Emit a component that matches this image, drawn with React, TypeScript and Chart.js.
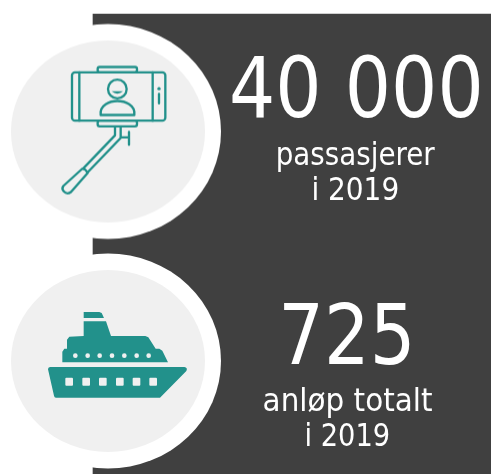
import React, { useEffect, useRef } from "react";
import { Chart, registerables } from "chart.js";

Chart.register(...registerables);

// ---- data ----
const statLabels = ["passasjerer", "anløp totalt"];
const statValues = [40000, 725];
const statPeriods = ["i 2019", "i 2019"];

// ---- layout (page pixels, not data) ----
const W = 491;
const H = 474;
const TEAL = "#22918b";
const GREY = "#f0f0f0";
const DARK = "#404040";
const TEXT = "#ffffff";
const FONT = '"DejaVu Sans"';
const badgeCentres = [
  { x: 108, y: 131.5 },
  { x: 108, y: 361 },
];
const valueBoxes = [
  { l: 232.5, r: 479, base: 117, size: 84 },
  { l: 283.5, r: 410, base: 364, size: 84 },
];
const labelBoxes = [
  { l: 277.5, r: 435.5, base: 165, size: 32 },
  { l: 263.5, r: 432, base: 410.5, size: 32 },
];
const periodBoxes = [
  { l: 314, r: 398, base: 199.5, size: 32 },
  { l: 307, r: 389, base: 446, size: 32 },
];

const fmt = (n: number) => String(n).replace(/\B(?=(\d{3})+$)/g, " ");

function rr(c: CanvasRenderingContext2D, x: number, y: number, w: number, h: number, r: number) {
  c.beginPath();
  c.roundRect(x, y, w, h, r);
}

function poly(c: CanvasRenderingContext2D, pts: number[][]) {
  c.beginPath();
  pts.forEach((p, i) => (i ? c.lineTo(p[0], p[1]) : c.moveTo(p[0], p[1])));
  c.closePath();
}

function selfieIcon(c: CanvasRenderingContext2D) {
  c.strokeStyle = TEAL;
  c.fillStyle = TEAL;
  c.lineWidth = 7;
  c.lineJoin = "round";
  c.lineCap = "round";
  rr(c, 216, 217, 280, 145, 9);
  c.stroke();
  rr(c, 293, 201, 118, 16, 6);
  c.stroke();
  rr(c, 293, 362, 118, 17, 6);
  c.stroke();
  c.beginPath();
  c.moveTo(238, 217);
  c.lineTo(238, 362);
  c.moveTo(458, 217);
  c.lineTo(458, 362);
  c.stroke();
  // side buttons
  c.beginPath();
  c.arc(477, 266, 5, 0, Math.PI * 2);
  c.fill();
  c.beginPath();
  c.moveTo(477, 282);
  c.lineTo(477, 310);
  c.stroke();
  // head
  c.beginPath();
  c.arc(352, 267, 28, 0, Math.PI * 2);
  c.stroke();
  c.beginPath();
  c.moveTo(335, 274);
  c.lineTo(369, 274);
  c.quadraticCurveTo(352, 288, 335, 274);
  c.closePath();
  c.fill();
  // body
  c.beginPath();
  c.moveTo(302, 345);
  c.bezierCurveTo(298, 315, 330, 303, 352, 303);
  c.bezierCurveTo(375, 303, 407, 315, 403, 345);
  c.closePath();
  c.stroke();
  // stick
  c.beginPath();
  c.moveTo(345, 380);
  c.lineTo(345, 406);
  c.lineTo(250, 505);
  c.moveTo(362, 380);
  c.lineTo(362, 414);
  c.lineTo(264, 516);
  c.moveTo(362, 412);
  c.lineTo(387, 412);
  c.moveTo(387, 396);
  c.lineTo(387, 434);
  c.stroke();
  // handle
  c.beginPath();
  c.moveTo(246, 507);
  c.lineTo(190, 558);
  c.quadraticCurveTo(184, 566, 191, 574);
  c.quadraticCurveTo(201, 585, 213, 576);
  c.lineTo(263, 519);
  c.quadraticCurveTo(256, 505, 246, 507);
  c.closePath();
  c.stroke();
}

function shipIcon(c: CanvasRenderingContext2D) {
  c.fillStyle = TEAL;
  poly(c, [[251, 216], [298, 216], [305, 219], [312, 234], [251, 234]]);
  c.fill();
  poly(c, [
    [251, 244], [318, 244], [333, 288], [436, 288], [445, 292], [467, 326], [478, 326], [487, 332], [504, 367],
    [187, 367], [187, 335], [193, 326], [201, 326], [201, 299], [208, 290], [251, 288],
  ]);
  c.fill();
  c.beginPath();
  c.moveTo(150, 381);
  c.lineTo(553, 381);
  c.quadraticCurveTo(564, 383, 559, 393);
  c.lineTo(480, 473);
  c.lineTo(168, 473);
  c.quadraticCurveTo(163, 473, 162, 467);
  c.lineTo(144, 388);
  c.quadraticCurveTo(144, 382, 150, 381);
  c.closePath();
  c.fill();
  c.fillStyle = GREY;
  [226, 263, 299, 336, 373, 410, 446].forEach((x) => {
    c.beginPath();
    c.arc(x, 347, 7, 0, Math.PI * 2);
    c.fill();
  });
  [196, 247, 297, 348, 398, 448].forEach((x) => {
    rr(c, x, 413, 23, 24, 3);
    c.fill();
  });
}

function badge(index: number) {
  const cv = document.createElement("canvas");
  cv.width = 230;
  cv.height = 222;
  const c = cv.getContext("2d") as CanvasRenderingContext2D;
  const cx = 115;
  const cy = 111;
  c.fillStyle = "#ffffff";
  c.beginPath();
  c.ellipse(cx, cy, 113, 107.5, 0, 0, Math.PI * 2);
  c.fill();
  c.fillStyle = GREY;
  c.beginPath();
  c.ellipse(cx, cy, 97, 91, 0, 0, Math.PI * 2);
  c.fill();
  const centre = badgeCentres[index];
  const zoomTop = index === 0 ? 0 : 240;
  c.save();
  c.translate(cx - centre.x, cy - centre.y + zoomTop);
  c.scale(1 / 3, 1 / 3);
  if (index === 0) selfieIcon(c);
  else shipIcon(c);
  c.restore();
  return cv;
}

function fitted(
  c: CanvasRenderingContext2D,
  text: string,
  box: { l: number; r: number; base: number; size: number },
) {
  c.font = `${box.size}px ${FONT}`;
  const m = c.measureText(text);
  const ink = m.actualBoundingBoxRight + m.actualBoundingBoxLeft;
  const sx = (box.r - box.l) / ink;
  c.save();
  c.translate(box.l + m.actualBoundingBoxLeft * sx, box.base);
  c.scale(sx, 1);
  c.textAlign = "left";
  c.textBaseline = "alphabetic";
  c.fillStyle = TEXT;
  c.fillText(text, 0, 0);
  c.restore();
}

const textPlugin = {
  id: "statText",
  afterDatasetsDraw(chart: any) {
    const c = chart.ctx as CanvasRenderingContext2D;
    statValues.forEach((v, i) => {
      fitted(c, fmt(v), valueBoxes[i]);
      fitted(c, statLabels[i], labelBoxes[i]);
      fitted(c, statPeriods[i], periodBoxes[i]);
    });
  },
};

export default function App() {
  const ref = useRef<HTMLCanvasElement | null>(null);
  useEffect(() => {
    document.body.style.margin = "0";
    document.body.style.background = "#ffffff";
    const chart = new Chart(ref.current as HTMLCanvasElement, {
      type: "scatter",
      data: {
        datasets: [
          {
            type: "scatter",
            label: "Stats",
            data: badgeCentres.map((p, i) => ({ x: p.x, y: p.y, value: statValues[i] })),
            pointStyle: badgeCentres.map((_, i) => badge(i)) as any,
            pointRadius: 10,
            clip: false,
            order: 1,
          },
          {
            type: "bar",
            label: "Panel",
            data: [{ x: (93 + W) / 2, y: [14, H] }] as any,
            backgroundColor: DARK,
            barThickness: W - 93,
            borderWidth: 0,
            order: 2,
          },
        ] as any,
      },
      options: {
        responsive: false,
        animation: false,
        devicePixelRatio: 1,
        layout: { padding: 0, autoPadding: false },
        plugins: { legend: { display: false }, tooltip: { enabled: false }, title: { display: false } },
        scales: {
          x: { type: "linear", min: 0, max: W, display: false, offset: false },
          y: { type: "linear", min: 0, max: H, reverse: true, display: false },
        },
      } as any,
      plugins: [textPlugin],
    });
    return () => chart.destroy();
  }, []);
  return (
    <canvas
      ref={ref}
      width={W}
      height={H}
      style={{ position: "absolute", left: 0, top: 0, display: "block", width: W, height: H }}
    />
  );
}
